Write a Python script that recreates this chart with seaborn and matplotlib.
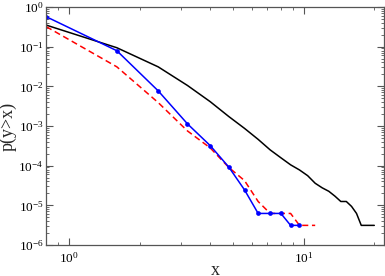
import numpy as np
import pandas as pd
import matplotlib
matplotlib.use("Agg")
import matplotlib.pyplot as plt
import matplotlib.ticker as mticker
import seaborn as sns

# ---- data ----
blue_x = [0.8, 1.6, 2.4, 3.2, 4.0, 4.8, 5.6, 6.4, 7.2, 8.0, 8.8, 9.6]
blue_y = [0.57, 0.079, 0.0077, 0.00113, 3.2e-4, 9.2e-5, 2.45e-5,
          6.25e-6, 6.25e-6, 6.25e-6, 3.125e-6, 3.125e-6]

red_x = [0.8, 1.6, 2.4, 3.2, 4.0, 4.8, 5.6, 6.4, 7.2, 8.0, 8.8, 9.6, 10.4, 11.2]
red_y = [0.32, 0.031, 0.0039, 7.5e-4, 2.8e-4, 9.0e-5, 4.2e-5, 1.25e-5,
         6.25e-6, 6.25e-6, 6.25e-6, 3.125e-6, 3.125e-6, 3.125e-6]

black_x = [0.8, 1.6, 2.4, 3.2, 4.0, 4.8, 5.6, 6.4, 7.2, 8.0, 8.8, 9.6, 10.4,
           11.2, 12.0, 12.8, 13.6, 14.4, 15.2, 16.0, 16.8, 17.6, 18.4, 19.2, 20.0]
black_y = [0.35, 0.094, 0.031, 0.0105, 0.0041, 1.73e-3, 8.7e-4, 4.6e-4, 2.5e-4,
           1.58e-4, 1.05e-4, 7.8e-5, 5.6e-5, 3.6e-5, 2.76e-5, 2.26e-5, 1.7e-5,
           1.25e-5, 1.25e-5, 9.4e-6, 6.25e-6, 3.125e-6, 3.125e-6, 3.125e-6, 3.125e-6]

x_label = "x"
y_label = "p(y>x)"

# ---- style ----
sns.set_style("ticks")
plt.rcParams["font.family"] = ["Liberation Serif", "DejaVu Serif"]
plt.rcParams["mathtext.fontset"] = "custom"
plt.rcParams["mathtext.rm"] = "Liberation Serif"
plt.rcParams["mathtext.it"] = "Liberation Serif:italic"
plt.rcParams["mathtext.bf"] = "Liberation Serif:bold"

fig = plt.figure(figsize=(3.85, 2.76), dpi=100)
ax = fig.add_axes([46.2 / 385, 31 / 276, (384 - 46.2) / 385, (245 - 7) / 276])

df_black = pd.DataFrame({"x": black_x, "y": black_y})
df_red = pd.DataFrame({"x": red_x, "y": red_y})
df_blue = pd.DataFrame({"x": blue_x, "y": blue_y})

sns.lineplot(data=df_black, x="x", y="y", ax=ax, color="black", linewidth=1.1,
             sort=False, estimator=None)
sns.lineplot(data=df_red, x="x", y="y", ax=ax, color="#ff0000", linewidth=1.1,
             sort=False, estimator=None)
sns.lineplot(data=df_blue, x="x", y="y", ax=ax, color="#0000ff", linewidth=1.1,
             marker="o", markersize=3.4, markeredgewidth=0, sort=False, estimator=None)
ax.lines[1].set_dashes([4, 2.4])

ax.set_xscale("log")
ax.set_yscale("log")
ax.set_xlim(0.8, 22)
ax.set_ylim(1e-6, 1)

ax.xaxis.set_major_locator(mticker.LogLocator(base=10, numticks=10))
ax.xaxis.set_minor_locator(mticker.LogLocator(base=10, subs=np.arange(2, 10), numticks=20))
ax.xaxis.set_minor_formatter(mticker.NullFormatter())
ax.yaxis.set_major_locator(mticker.LogLocator(base=10, numticks=10))
ax.yaxis.set_minor_locator(mticker.LogLocator(base=10, subs=np.arange(2, 10), numticks=20))
ax.yaxis.set_minor_formatter(mticker.NullFormatter())

spine_col = "#555555"
for s in ax.spines.values():
    s.set_visible(True)
    s.set_color(spine_col)
    s.set_linewidth(0.9)

ax.tick_params(which="both", direction="in", top=True, right=True, colors=spine_col,
               labelcolor="black", labelsize=9.5)
ax.tick_params(which="major", length=5, width=0.8)
ax.tick_params(which="minor", length=2.5, width=0.6)
ax.tick_params(axis="y", which="major", pad=2)
ax.tick_params(axis="x", which="major", pad=4)

ax.set_xlabel(x_label, fontsize=13, labelpad=-2)
ax.set_ylabel(y_label, fontsize=13, labelpad=1)

fig.savefig("out.png", dpi=100)
